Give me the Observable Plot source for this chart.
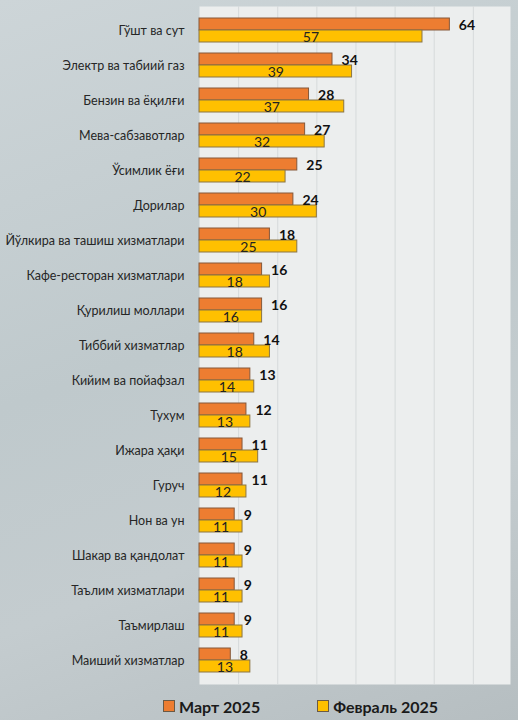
<!DOCTYPE html>
<html>
<head>
<meta charset="utf-8">
<script src="https://cdn.jsdelivr.net/npm/d3@7"></script>
<script src="https://cdn.jsdelivr.net/npm/@observablehq/plot@0.6"></script>
<style>
  html, body { margin: 0; padding: 0; }
  body {
    width: 518px; height: 720px; overflow: hidden;
    background: linear-gradient(160deg, #cdd5d8 0%, #bfc9cc 45%, #c4cccf 70%, #b6bec1 100%);
    font-family: Lato, "Open Sans", sans-serif;
  }
  #chart svg { display: block; background: transparent; }
  .legend { display: flex; height: 28px; align-items: center; font-weight: bold; font-size: 16px; color: #1a1a1a; }
  .sw { display: inline-block; width: 10px; height: 10px; border: 1px solid #6b5a45; margin-right: 4px; }
</style>
</head>
<body>
<div id="chart"></div>
<div class="legend">
  <span style="margin-left:163px" class="sw" id="sw1"></span><span id="l1"></span>
  <span style="margin-left:57px" class="sw" id="sw2"></span><span id="l2"></span>
</div>
<script>
const categories = [
  "Гўшт ва сут", "Электр ва табиий газ", "Бензин ва ёқилғи", "Мева-сабзавотлар",
  "Ўсимлик ёғи", "Дорилар", "Йўлкира ва ташиш хизматлари", "Кафе-ресторан хизматлари",
  "Қурилиш моллари", "Тиббий хизматлар", "Кийим ва пойафзал", "Тухум", "Ижара ҳақи",
  "Гуруч", "Нон ва ун", "Шакар ва қандолат", "Таълим хизматлари", "Таъмирлаш", "Маиший хизматлар"
];
const march2025 = [64, 34, 28, 27, 25, 24, 18, 16, 16, 14, 13, 12, 11, 11, 9, 9, 9, 9, 8];
const feb2025   = [57, 39, 37, 32, 22, 30, 25, 18, 16, 18, 14, 13, 15, 12, 11, 11, 11, 11, 13];
const seriesNames = ["Март 2025", "Февраль 2025"];
const seriesColors = ["#ED7D31", "#FFC000"];
const xTicks = [0, 10, 20, 30, 40, 50, 60, 70];

const mar = categories.map((c, i) => ({cat: c, value: march2025[i]}));
const feb = categories.map((c, i) => ({cat: c, value: feb2025[i]}));

document.getElementById("sw1").style.background = seriesColors[0];
document.getElementById("sw2").style.background = seriesColors[1];
document.getElementById("l1").textContent = seriesNames[0];
document.getElementById("l2").textContent = seriesNames[1];

const chart = Plot.plot({
  width: 518,
  height: 692,
  marginLeft: 199,
  marginRight: 8,
  marginTop: 6,
  marginBottom: 8,
  style: {fontFamily: "Lato, 'Open Sans', sans-serif", background: "transparent"},
  x: {domain: [0, 79.5], axis: null},
  y: {domain: categories, paddingInner: 0.328, paddingOuter: 0.168, label: null},
  marks: [
    Plot.frame({fill: "#eceeee", stroke: "none"}),
    Plot.ruleX(xTicks.slice(1), {stroke: "#d6dadb", strokeWidth: 1}),
    Plot.axisY({tickSize: 0, tickPadding: 15, fontSize: 12.5, fill: "#262626", label: null}),
    Plot.barX(mar, {x: "value", y: "cat", fill: seriesColors[0], stroke: "#85583a", strokeWidth: 1, insetBottom: 12}),
    Plot.barX(feb, {x: "value", y: "cat", fill: seriesColors[1], stroke: "#8a7545", strokeWidth: 1, insetTop: 12}),
    Plot.text(mar, {x: "value", y: "cat", text: d => String(d.value), dx: 9, dy: -5, textAnchor: "start", fontWeight: "bold", fontSize: 14, fill: "#111"}),
    Plot.text(feb, {x: d => d.value / 2, y: "cat", text: d => String(d.value), dy: 7, fontSize: 14, fill: "#222"})
  ]
});
document.getElementById("chart").append(chart);
</script>
</body>
</html>
